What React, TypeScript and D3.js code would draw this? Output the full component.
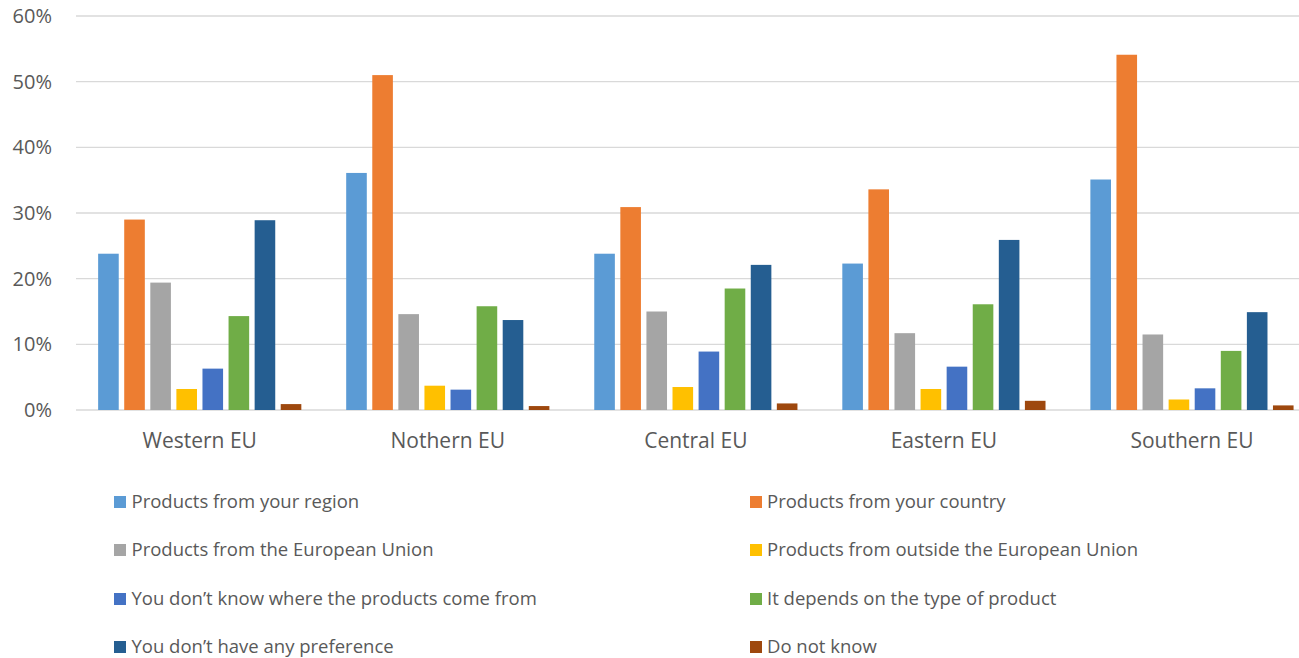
import React, { useEffect, useRef } from "react";
import * as d3 from "d3";

const categories = ["Western EU", "Nothern EU", "Central EU", "Eastern EU", "Southern EU"];
const seriesNames = [
  "Products from your region",
  "Products from your country",
  "Products from the European Union",
  "Products from outside the European Union",
  "You don\u2019t know where the products come from",
  "It depends on the type of product",
  "You don\u2019t have any preference",
  "Do not know",
];
const seriesColors = ["#5B9BD5", "#ED7D31", "#A5A5A5", "#FFC000", "#4472C4", "#70AD47", "#255E91", "#9E480E"];
// values per series, in category order (percent)
const regionVals = [23.8, 36.1, 23.8, 22.3, 35.1];
const countryVals = [29.0, 51.0, 30.9, 33.6, 54.1];
const euVals = [19.4, 14.6, 15.0, 11.7, 11.5];
const outsideVals = [3.2, 3.7, 3.5, 3.2, 1.6];
const dontKnowWhereVals = [6.3, 3.1, 8.9, 6.6, 3.3];
const dependsVals = [14.3, 15.8, 18.5, 16.1, 9.0];
const noPrefVals = [28.9, 13.7, 22.1, 25.9, 14.9];
const doNotKnowVals = [0.9, 0.6, 1.0, 1.4, 0.7];
const seriesValues = [regionVals, countryVals, euVals, outsideVals, dontKnowWhereVals, dependsVals, noPrefVals, doNotKnowVals];
const yTicks = [0, 10, 20, 30, 40, 50, 60];

const W = 1299;
const H = 658;
const FONT = "'Open Sans', Lato, sans-serif";
const TEXT = "#595959";

export default function App() {
  const ref = useRef<SVGSVGElement>(null);
  useEffect(() => {
    const svg = d3.select(ref.current);
    svg.selectAll("*").remove();

    const y = d3.scaleLinear().domain([0, 60]).range([410, 16]);
    const x0 = d3.scaleBand<string>().domain(categories).range([75.7, 1316]).paddingInner(0).paddingOuter(0);
    const x1 = d3
      .scaleBand<number>()
      .domain(d3.range(seriesNames.length))
      .range([0, x0.bandwidth()])
      .paddingInner(0.21)
      .paddingOuter(0.86);

    // gridlines
    svg
      .append("g")
      .selectAll("line")
      .data(yTicks)
      .join("line")
      .attr("x1", 76)
      .attr("x2", W)
      .attr("y1", (d) => y(d))
      .attr("y2", (d) => y(d))
      .attr("stroke", "#D9D9D9")
      .attr("stroke-width", 1.3);

    // y labels
    svg
      .append("g")
      .selectAll("text")
      .data(yTicks)
      .join("text")
      .attr("x", 52)
      .attr("y", (d) => y(d))
      .attr("dy", "0.35em")
      .attr("text-anchor", "end")
      .attr("font-family", FONT)
      .attr("font-size", 20)
      .attr("fill", TEXT)
      .text((d) => `${d}%`);

    // bars
    const groups = svg
      .append("g")
      .selectAll("g")
      .data(categories)
      .join("g")
      .attr("transform", (c) => `translate(${x0(c)},0)`);
    groups
      .selectAll("rect")
      .data((c, ci) => seriesValues.map((vals, si) => ({ si, v: vals[ci] })))
      .join("rect")
      .attr("x", (d) => x1(d.si)!)
      .attr("width", x1.bandwidth())
      .attr("y", (d) => y(d.v))
      .attr("height", (d) => y(0) - y(d.v))
      .attr("fill", (d) => seriesColors[d.si]);

    // category labels
    svg
      .append("g")
      .selectAll("text")
      .data(categories)
      .join("text")
      .attr("x", (c) => x0(c)! + x0.bandwidth() / 2)
      .attr("y", 441)
      .attr("dy", "0.35em")
      .attr("text-anchor", "middle")
      .attr("font-family", FONT)
      .attr("font-size", 21)
      .attr("fill", TEXT)
      .text((c) => c);

    // legend
    const rowY = [502, 550, 599, 647];
    const colX = [114, 750];
    const leg = svg
      .append("g")
      .selectAll("g")
      .data(seriesNames)
      .join("g")
      .attr("transform", (_, i) => `translate(${colX[i % 2]},${rowY[Math.floor(i / 2)]})`);
    leg
      .append("rect")
      .attr("x", 0)
      .attr("y", -6)
      .attr("width", 12)
      .attr("height", 12)
      .attr("fill", (_, i) => seriesColors[i]);
    leg
      .append("text")
      .attr("x", (_, i) => (i % 2 === 0 ? 17.5 : 17))
      .attr("y", 0)
      .attr("dy", "0.35em")
      .attr("font-family", FONT)
      .attr("font-size", 18.5)
      .attr("fill", TEXT)
      .text((d) => d);
  }, []);

  return (
    <svg
      ref={ref}
      width={W}
      height={H}
      style={{ position: "fixed", left: 0, top: 0, background: "#fff" }}
    />
  );
}
